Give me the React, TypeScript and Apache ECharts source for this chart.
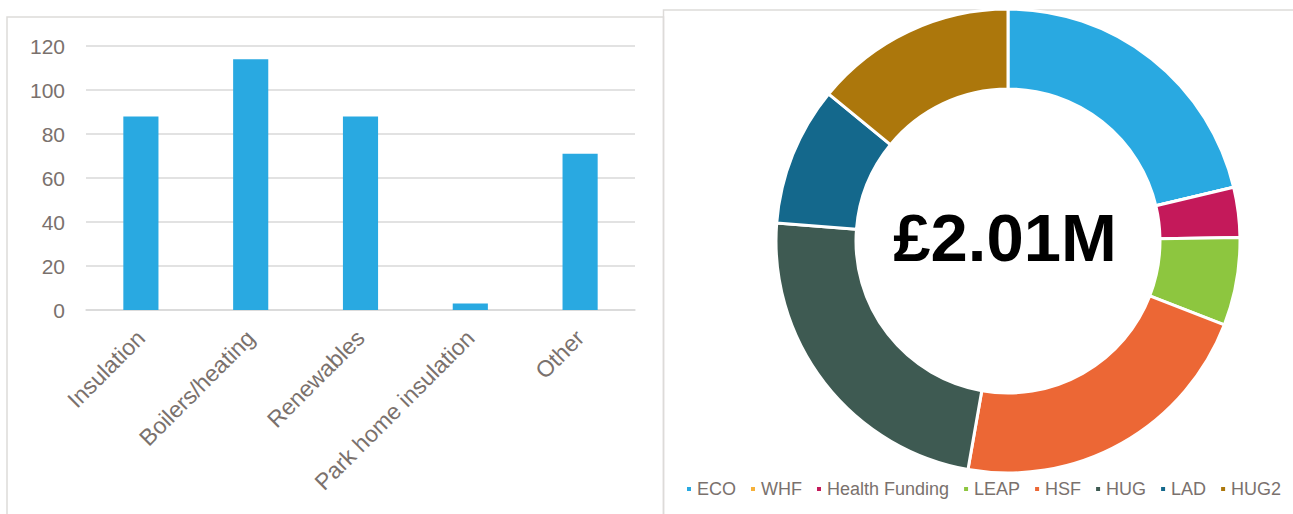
import React, { useEffect, useRef } from "react";
import * as echarts from "echarts";

const barCategories = ["Insulation", "Boilers/heating", "Renewables", "Park home insulation", "Other"];
const barValues = [88, 114, 88, 3, 71];
const yTicks = { min: 0, max: 120, interval: 20 };

const fundNames = ["ECO", "WHF", "Health Funding", "LEAP", "HSF", "HUG", "LAD", "HUG2"];
const fundValues = [428, 0, 70, 123, 440, 472, 195, 283];
const fundColors = ["#29A9E1", "#F6B13A", "#C4195A", "#8DC63F", "#EC6735", "#3E5A52", "#14688C", "#AC770C"];
const totalLabel = "£2.01M";

const FONT = 'Arial, "Liberation Sans", sans-serif';
const TXT = "#7A716D";

export default function App() {
  const ref = useRef<HTMLDivElement>(null);
  useEffect(() => {
    if (!ref.current) return;
    const chart = echarts.init(ref.current, undefined, { renderer: "svg" });
    chart.setOption({
      animation: false,
      backgroundColor: "#ffffff",
      textStyle: { fontFamily: FONT },
      graphic: [
        { type: "rect", shape: { x: 7, y: 17, width: 656.5, height: 520 }, style: { fill: "none", stroke: "#DDDBD9", lineWidth: 1.5 }, silent: true },
        { type: "rect", shape: { x: 663.5, y: 10, width: 700, height: 520 }, style: { fill: "none", stroke: "#DDDBD9", lineWidth: 1.5 }, silent: true },
        { type: "text", x: 1005, y: 237, style: { text: totalLabel, font: `bold 67px ${FONT}`, fill: "#000000", textAlign: "center", textVerticalAlign: "middle" }, silent: true, z: 10 },
      ],
      grid: { left: 86, right: 658, top: 46, bottom: 204, containLabel: false },
      xAxis: {
        type: "category",
        data: barCategories,
        axisLine: { show: true, lineStyle: { color: "#D9D9D9", width: 1.5 } },
        axisTick: { show: false },
        axisLabel: { rotate: 45, fontSize: 23, color: TXT, margin: 24, interval: 0, fontFamily: FONT },
      },
      yAxis: {
        type: "value",
        min: yTicks.min,
        max: yTicks.max,
        interval: yTicks.interval,
        axisLine: { show: false },
        axisTick: { show: false },
        axisLabel: { fontSize: 21, color: TXT, margin: 21, fontFamily: FONT },
        splitLine: { lineStyle: { color: "#D9D9D9", width: 1.5 } },
      },
      legend: {
        data: fundNames,
        left: 680,
        top: 475,
        width: 640,
        icon: "rect",
        itemWidth: 6,
        itemHeight: 6,
        itemGap: 13,
        textStyle: { fontSize: 18, color: TXT, fontFamily: FONT },
      },
      series: [
        {
          type: "bar",
          data: barValues,
          barWidth: "32%",
          itemStyle: { color: "#29A9E1" },
          silent: true,
        },
        {
          type: "pie",
          center: [1008, 241],
          radius: [152, 232],
          startAngle: 90,
          clockwise: true,
          label: { show: false },
          labelLine: { show: false },
          itemStyle: { borderColor: "#ffffff", borderWidth: 3 },
          data: fundNames.map((n, i) => ({ name: n, value: fundValues[i], itemStyle: { color: fundColors[i] } })),
          color: fundColors,
          silent: true,
        },
      ],
    });
    return () => chart.dispose();
  }, []);
  return <div ref={ref} style={{ position: "fixed", left: 0, top: 0, width: 1293, height: 514 }} />;
}
